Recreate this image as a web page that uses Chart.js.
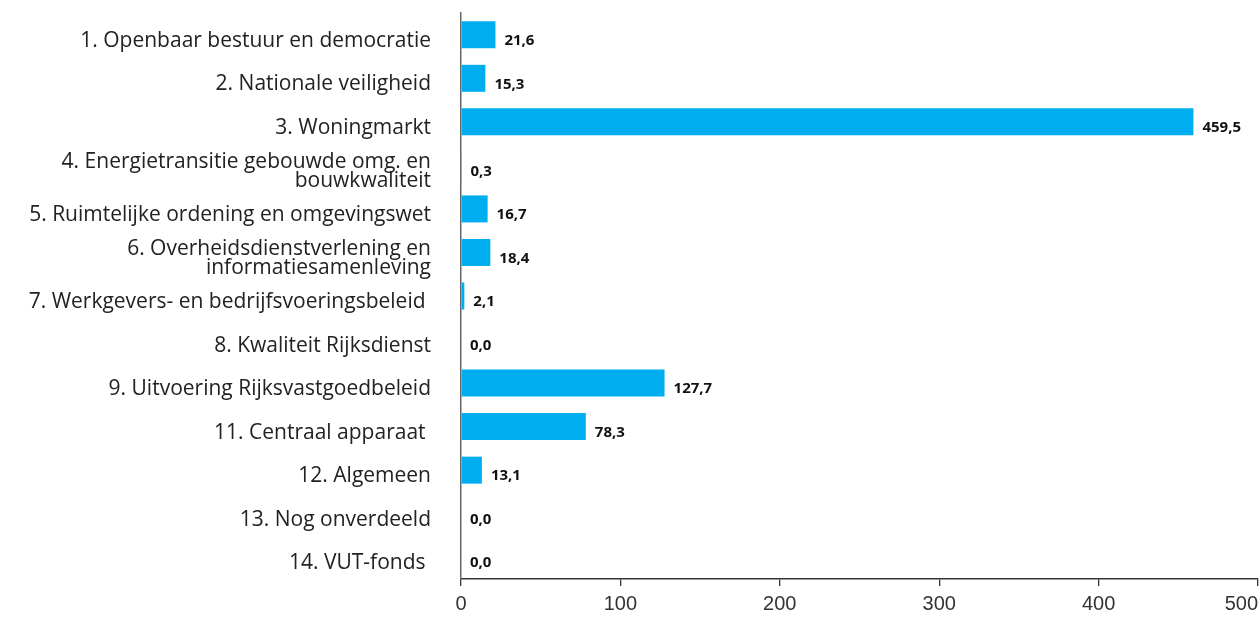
<!DOCTYPE html>
<html>
<head>
<meta charset="utf-8">
<script src="https://cdn.jsdelivr.net/npm/chart.js@4/dist/chart.umd.min.js"></script>
<style>
  html, body { margin: 0; padding: 0; background: #ffffff; }
  #wrap { width: 1260px; height: 621px; position: relative; }
</style>
</head>
<body>
<div id="wrap"><canvas id="c"></canvas></div>
<script>
const categories = [
  "1. Openbaar bestuur en democratie",
  "2. Nationale veiligheid",
  "3. Woningmarkt",
  ["4. Energietransitie gebouwde omg. en", "bouwkwaliteit"],
  "5. Ruimtelijke ordening en omgevingswet",
  ["6. Overheidsdienstverlening en", "informatiesamenleving"],
  "7. Werkgevers- en bedrijfsvoeringsbeleid ",
  "8. Kwaliteit Rijksdienst",
  "9. Uitvoering Rijksvastgoedbeleid",
  "11. Centraal apparaat ",
  "12. Algemeen",
  "13. Nog onverdeeld",
  "14. VUT-fonds "
];
const values = [21.6, 15.3, 459.5, 0.3, 16.7, 18.4, 2.1, 0.0, 127.7, 78.3, 13.1, 0.0, 0.0];
const xTicks = [0, 100, 200, 300, 400, 500];

const valueLabels = {
  id: 'valueLabels',
  afterDatasetsDraw(chart) {
    const ctx = chart.ctx;
    const meta = chart.getDatasetMeta(0);
    ctx.save();
    ctx.font = 'bold 15px "Open Sans", Arial, sans-serif';
    ctx.fillStyle = '#111111';
    ctx.textAlign = 'left';
    ctx.textBaseline = 'middle';
    meta.data.forEach((bar, i) => {
      const txt = values[i].toFixed(1).replace('.', ',');
      ctx.fillText(txt, bar.x + 9, bar.y + 6);
    });
    ctx.restore();
  }
};

new Chart(document.getElementById('c'), {
  type: 'bar',
  data: {
    labels: categories,
    datasets: [{
      data: values,
      backgroundColor: '#00AEEF',
      borderWidth: 0,
      barPercentage: 0.62,
      categoryPercentage: 1.0
    }]
  },
  options: {
    indexAxis: 'y',
    responsive: true,
    maintainAspectRatio: false,
    animation: false,
    layout: { padding: { top: 13, right: 2, left: 0, bottom: 0 } },
    plugins: { legend: { display: false }, tooltip: { enabled: false } },
    scales: {
      x: {
        min: 0, max: 500,
        afterBuildTicks(scale) { scale.ticks = xTicks.map(v => ({ value: v })); },
        afterFit(scale) { scale.height = 42; scale.paddingLeft = 0; scale.paddingRight = 0; },
        grid: { drawOnChartArea: false, drawTicks: true, tickLength: 7, tickColor: '#333333', lineWidth: 1.3 },
        border: { display: true, color: '#333333', width: 1.5 },
        ticks: {
          font: { family: 'Arial, "Liberation Sans", sans-serif', size: 20 },
          color: '#333333',
          padding: 6,
          maxRotation: 0,
          callback(value, index, ticks) {
            return index === ticks.length - 1 ? String(value) + '\u2007\u2007\u2007' : String(value);
          }
        }
      },
      y: {
        afterFit(scale) { scale.width = 461; scale.paddingTop = 0; scale.paddingBottom = 0; },
        grid: { display: false, drawTicks: false },
        border: { display: true, color: '#666666', width: 1.5 },
        ticks: {
          font: { family: '"Open Sans", Arial, sans-serif', size: 21, lineHeight: 0.9 },
          color: '#222222',
          padding: 30,
          labelOffset: 6,
          autoSkip: false
        }
      }
    }
  },
  plugins: [valueLabels]
});
</script>
</body>
</html>
